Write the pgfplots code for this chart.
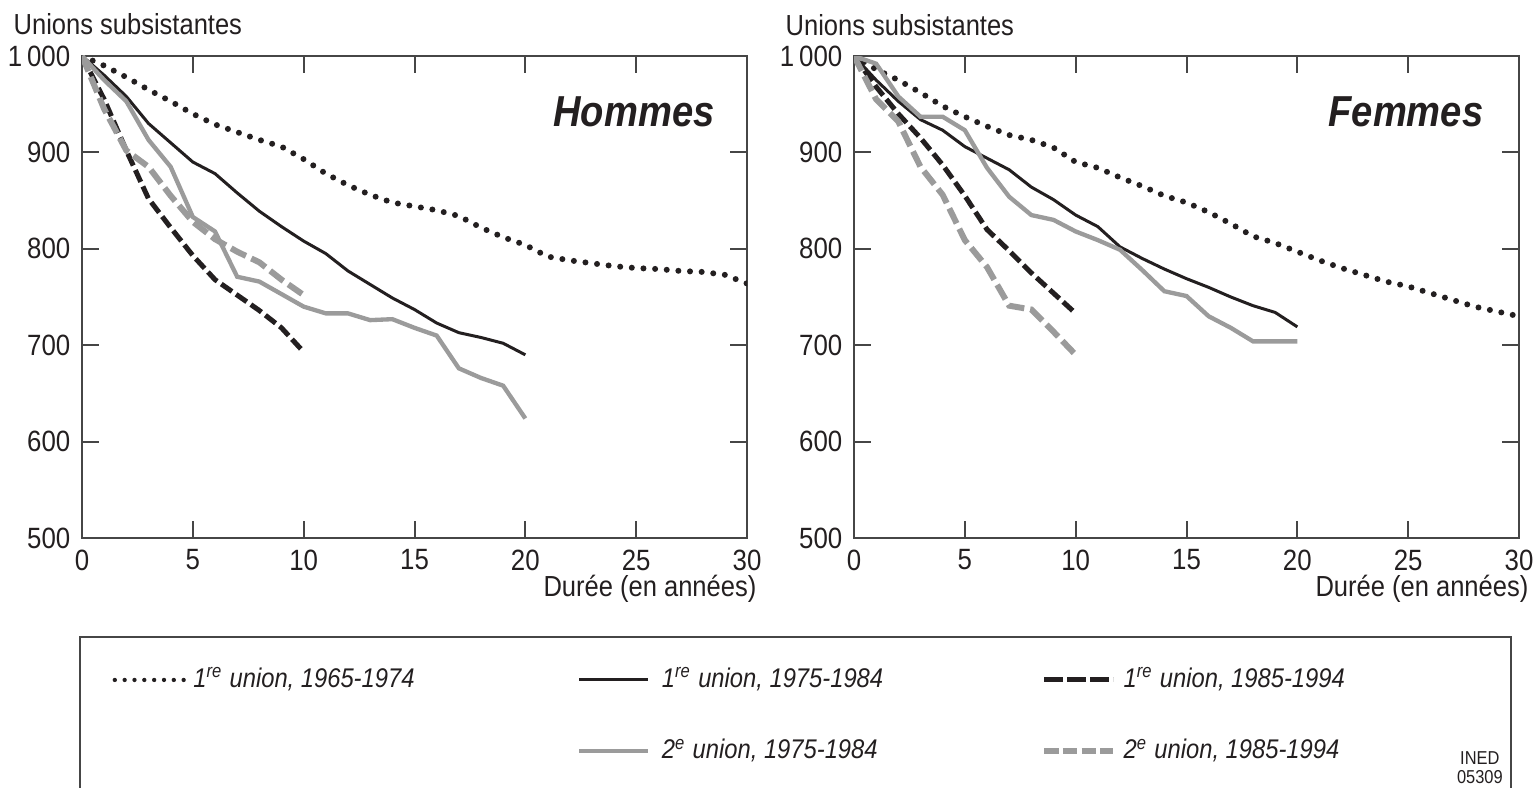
\documentclass[border=0pt]{standalone}
\usepackage{fontspec}
\setmainfont{Liberation Sans}[FakeStretch=0.88]
\usepackage{pgfplots}
\pgfplotsset{compat=1.18}
\definecolor{lgray}{RGB}{155,155,155}
\definecolor{dk}{RGB}{35,31,32}
\definecolor{axc}{RGB}{70,70,70}
\pgfplotsset{
 panel/.style={
  scale only axis, width=199.5pt, height=144.6pt,
  xmin=0,xmax=30,ymin=500,ymax=1000,
  xtick={0,5,...,30}, ytick={500,600,...,1000},
  tick align=inside, major tick length=5pt,
  axis line style={axc,line width=0.6pt},
  every tick/.style={axc,line width=0.6pt},
  tick label style={font=\fontsize{8.8}{10}\selectfont, text=dk},
  /pgf/number format/assume math mode=true,
  /pgf/number format/1000 sep={\,},
  xlabel={Durée (en années)},
  ylabel={Unions subsistantes},
  every axis x label/.style={at={(rel axis cs:1,0)},anchor=north east,yshift=-11pt,xshift=3pt,inner sep=0pt,font=\fontsize{8.7}{10}\selectfont,text=dk},
  every axis y label/.style={at={(rel axis cs:0,1)},anchor=base west,xshift=-20.7pt,yshift=6.3pt,inner sep=0pt,font=\fontsize{8.7}{10}\selectfont,text=dk},
  legend image code/.code={\draw[##1] (0pt,0pt) -- (20.7pt,0pt);},
 },
 s1/.style={dk, line width=1.8pt, line cap=round, dash pattern=on 0pt off 3.5pt},
 s2/.style={dk, line width=0.9pt},
 s3/.style={dk, line width=1.5pt, dash pattern=on 3.9pt off 1.5pt},
 s4/.style={lgray, line width=1.3pt},
 s5/.style={lgray, line width=1.8pt, dash pattern=on 5pt off 1.8pt},
}
\begin{document}
\begin{tikzpicture}
% ---------------- Hommes ----------------
\begin{axis}[panel, at={(24.6pt,74.7pt)}, anchor=south west]
\addplot[s1] coordinates {(0,1000)(1,990)(2,978)(3,965)(4,953)(5,940)(6,929)(7,921)(8,913)(9,906)(10,893)(11,878)(12,866)(13,856)(14,848)(15,844)(16,840)(17,834)(18,822)(19,812)(20,804)(21,792)(22,788)(23,785)(24,782)(25,780)(26,779)(27,777)(28,776)(29,773)(30,764)};
\addplot[s2] coordinates {(0,1000)(1,980)(2,958)(3,930)(4,910)(5,890)(6,878)(7,858)(8,839)(9,823)(10,808)(11,795)(12,777)(13,763)(14,749)(15,737)(16,723)(17,713)(18,708)(19,702)(20,690)};
\addplot[s3] coordinates {(0,1000)(1,955)(2,902)(3,852)(4,822)(5,793)(6,768)(7,752)(8,736)(9,718)(10,693)};
\addplot[s4] coordinates {(0,1000)(1,975)(2,953)(3,913)(4,885)(5,833)(6,818)(7,771)(8,766)(9,753)(10,740)(11,733)(12,733)(13,726)(14,727)(15,718)(16,710)(17,676)(18,666)(19,658)(20,624)};
\addplot[s5] coordinates {(0,1000)(1,945)(2,902)(3,885)(4,855)(5,828)(6,810)(7,797)(8,786)(9,768)(10,752)};
\node[font=\bfseries\itshape\fontsize{13}{15}\selectfont, text=dk] at (axis cs:24.9,942) {Hommes};
\end{axis}
% ---------------- Femmes ----------------
\begin{axis}[panel, at={(256.2pt,74.7pt)}, anchor=south west,
  legend style={at={(rel axis cs:-1.1158,-0.2676)}, anchor=north west, draw=none, fill=none,
    inner sep=0pt, row sep=14pt, font=\itshape\fontsize{8.1}{10}\selectfont, text=dk,
    nodes={inner sep=0pt}},
  legend columns=3, legend cell align=left]
\addplot[s1, legend image post style={line width=1.3pt, dash pattern=on 0pt off 2.95pt}] coordinates {(0,1000)(1,986)(2,975)(3,962)(4,948)(5,937)(6,927)(7,918)(8,913)(9,905)(10,890)(11,884)(12,874)(13,865)(14,855)(15,848)(16,838)(17,826)(18,813)(19,806)(20,797)(21,788)(22,780)(23,773)(24,766)(25,761)(26,754)(27,747)(28,740)(29,735)(30,730)};
\addlegendentry{\makebox[117.3pt][l]{\hspace{2.2pt}1\textsuperscript{re} union, 1965-1974}}
\addplot[s2] coordinates {(0,1000)(1,975)(2,953)(3,934)(4,923)(5,906)(6,894)(7,882)(8,864)(9,851)(10,835)(11,823)(12,802)(13,790)(14,779)(15,769)(16,760)(17,750)(18,741)(19,734)(20,719)};
\addlegendentry{\makebox[117.3pt][l]{\hspace{3.5pt}1\textsuperscript{re} union, 1975-1984}}
\addplot[s3, legend image post style={dash pattern=on 5.7pt off 1.2pt}] coordinates {(0,1000)(1,968)(2,940)(3,915)(4,887)(5,855)(6,820)(7,798)(8,775)(9,754)(10,733)};
\addlegendentry{\makebox[117.3pt][l]{\hspace{2.2pt}1\textsuperscript{re} union, 1985-1994}}
\addlegendimage{empty legend}
\addlegendentry{}
\addplot[s4] coordinates {(0,1000)(1,992)(2,958)(3,937)(4,937)(5,923)(6,884)(7,854)(8,835)(9,830)(10,818)(11,809)(12,799)(13,778)(14,756)(15,751)(16,730)(17,718)(18,704)(19,704)(20,704)};
\addlegendentry{\makebox[117.3pt][l]{\hspace{3.5pt}2\textsuperscript{e} union, 1975-1984}}
\addplot[s5, legend image post style={dash pattern=on 4.3pt off 1.3pt}] coordinates {(0,1000)(1,955)(2,932)(3,885)(4,856)(5,809)(6,781)(7,741)(8,737)(9,714)(10,690)};
\addlegendentry{\makebox[117.3pt][l]{\hspace{2.2pt}2\textsuperscript{e} union, 1985-1994}}
\node[font=\bfseries\itshape\fontsize{13}{15}\selectfont, text=dk] at (axis cs:24.9,942) {Femmes};
\end{axis}
% legend frame and credit
\draw[axc, line width=0.6pt] (24pt,45pt) rectangle (453.3pt,-10pt);
\node[font=\fontsize{5.6}{5.8}\selectfont, text=dk, align=center, inner sep=0pt, anchor=south east] at (451pt,0.8pt) {INED\\05309};
\pgfresetboundingbox
\path[use as bounding box] (0pt,0pt) rectangle (459.9pt,236.1pt);
\end{tikzpicture}
\end{document}
